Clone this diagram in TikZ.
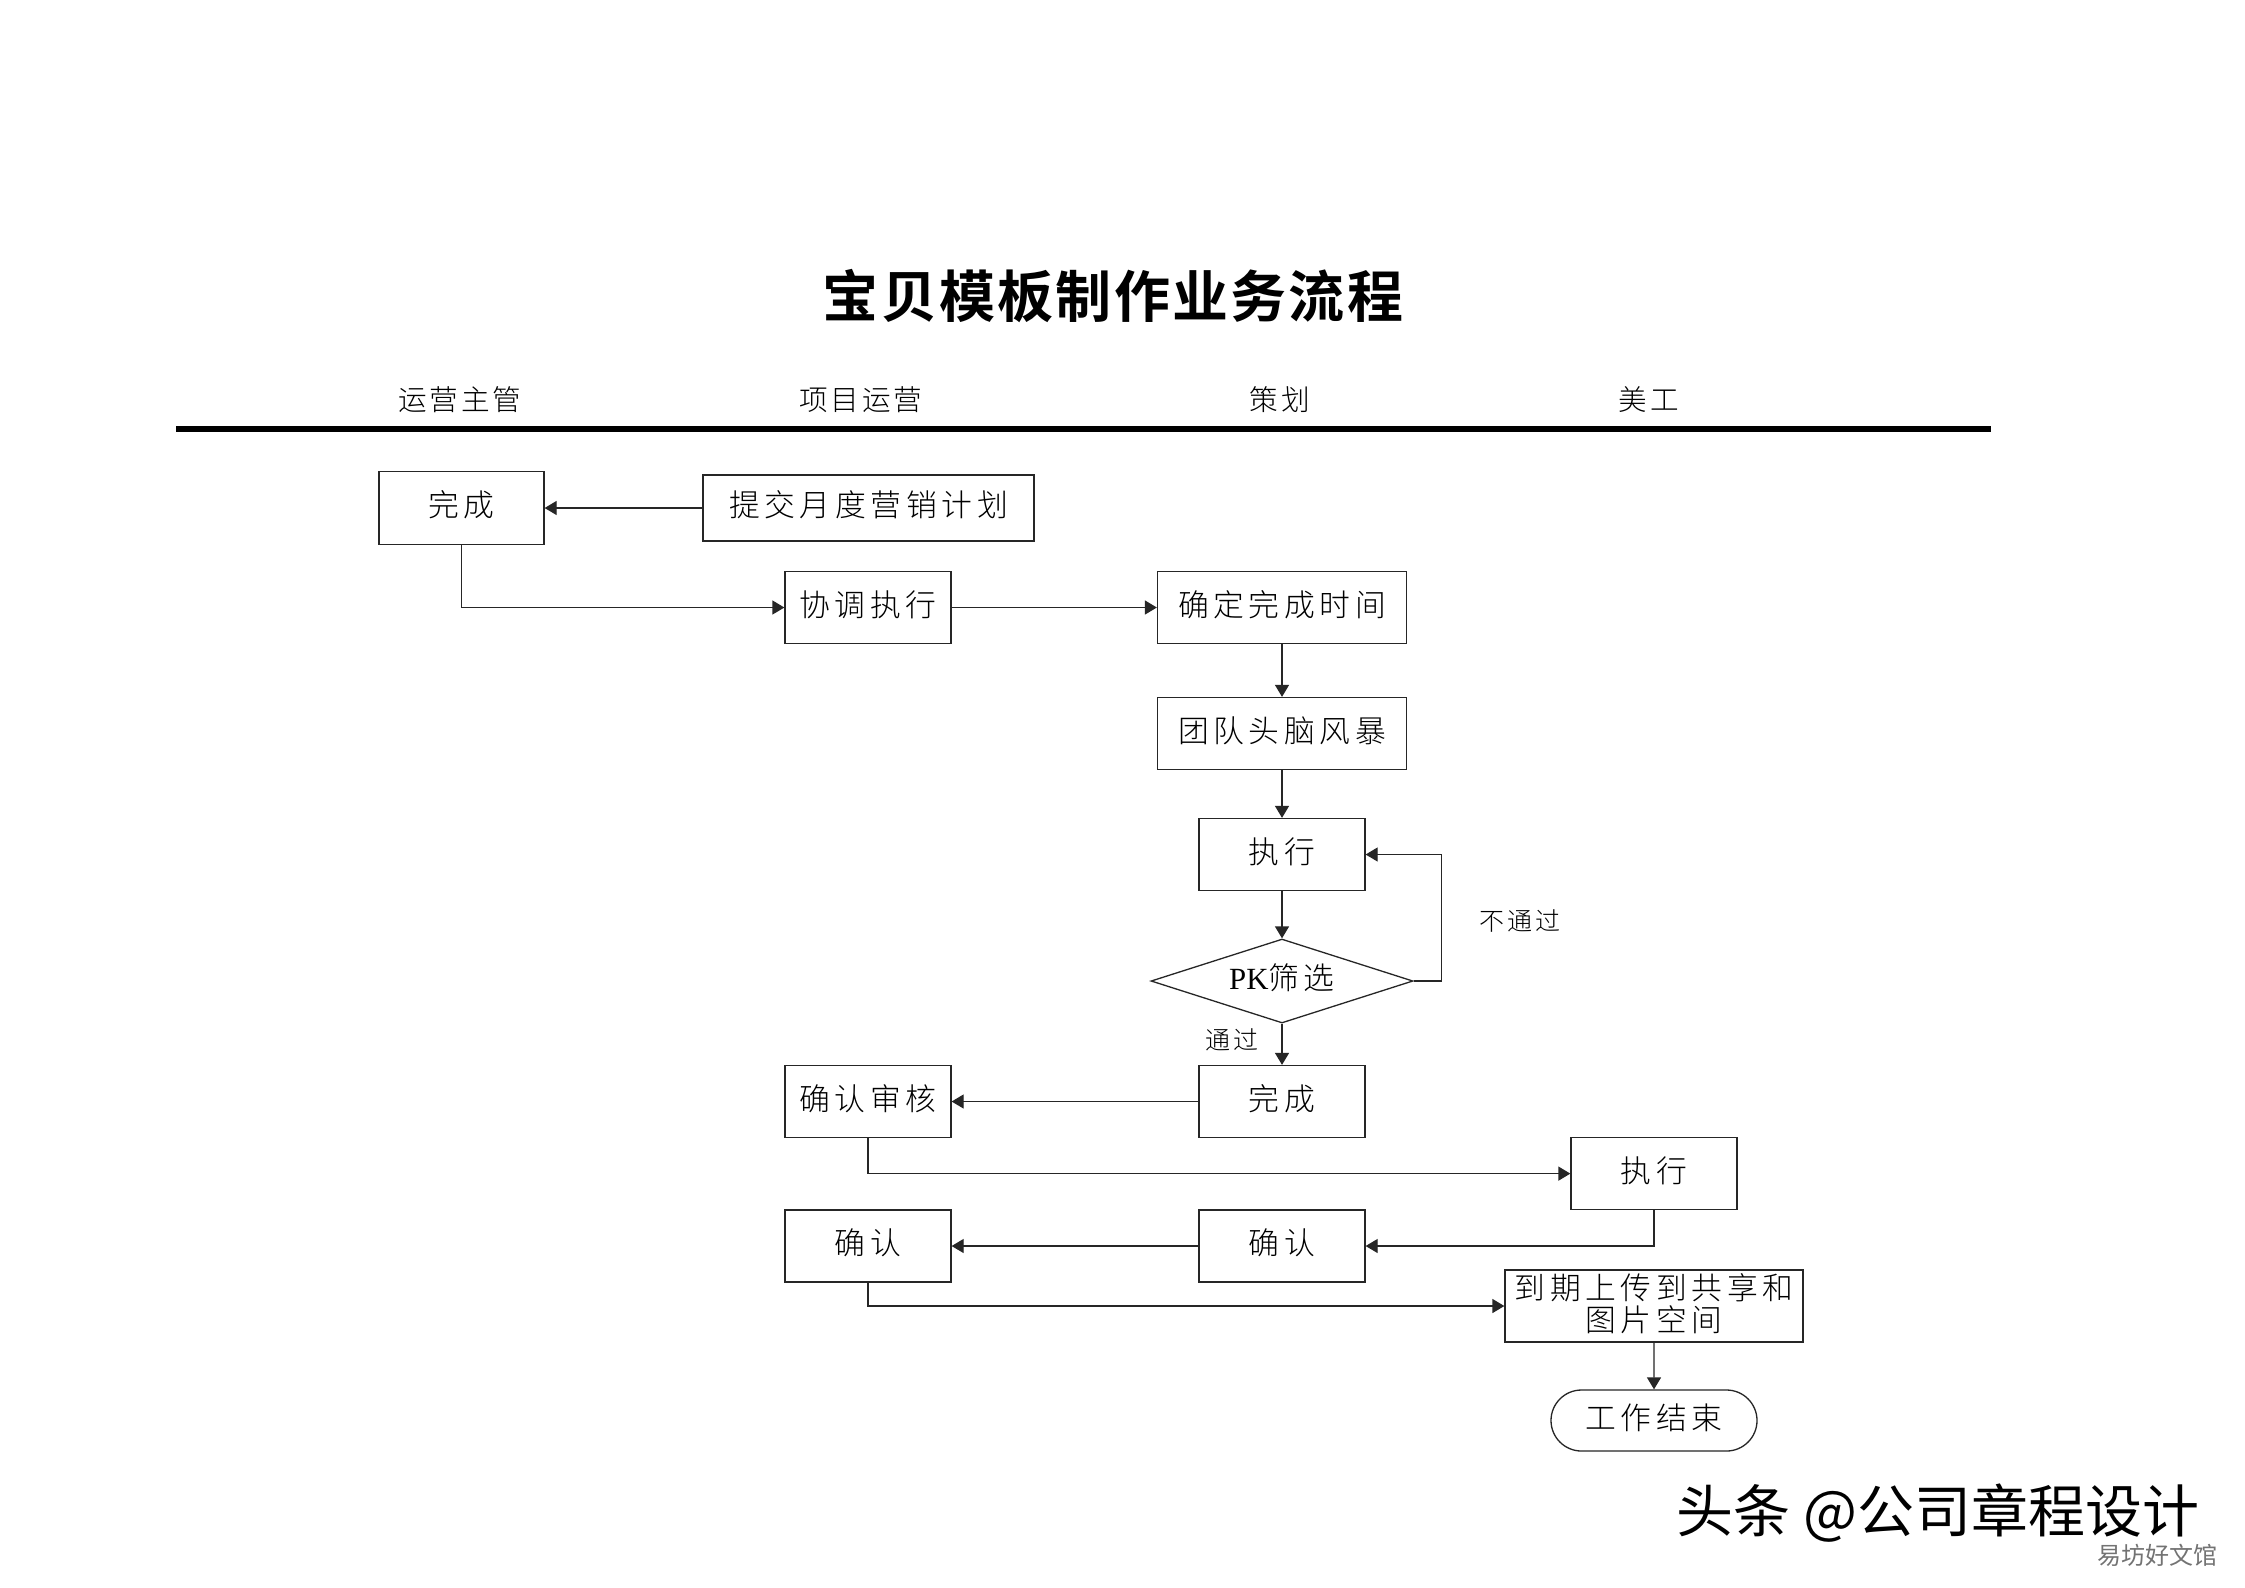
\documentclass[tikz,border=0pt]{standalone}
\usepackage{fontspec}
\usetikzlibrary{arrows.meta,shapes.geometric,shapes.misc}
\setmainfont{Liberation Serif}
\newfontfamily\cjktitle[LetterSpace=4]{Noto Sans CJK SC Bold}
\newfontfamily\cjkhead[LetterSpace=10]{Noto Sans CJK SC Light}
\newfontfamily\cjkbody[LetterSpace=15]{Noto Sans CJK SC Light}
\newfontfamily\cjklabel[LetterSpace=12]{Noto Sans CJK SC Light}
\newfontfamily\cjkmark{Noto Sans CJK SC}
\newfontfamily\latinbody{Liberation Serif}
\newcommand\up[1]{\raisebox{1.4pt}[\height][\depth]{#1}}
\begin{document}
\begin{tikzpicture}[x=0.5pt,y=-0.5pt,
  box/.style={draw=black!85,line width=0.65pt,rectangle,inner sep=0pt,align=center,font=\fontsize{15.4}{16}\cjkbody},
  sq/.style={box,minimum width=83pt,minimum height=36pt},
  wide/.style={box,minimum width=124.5pt,minimum height=36pt},
  decide/.style={draw=black!85,line width=0.65pt,diamond,aspect=3.12,inner sep=0pt,minimum width=131pt,minimum height=42pt,font=\fontsize{15.4}{16}\cjkbody},
  term/.style={draw=black!85,line width=0.65pt,rounded rectangle,inner sep=0pt,minimum width=103pt,minimum height=30.5pt,font=\fontsize{15.4}{16}\cjkbody},
  head/.style={inner sep=0pt,font=\fontsize{14.3}{16}\cjkhead},
  lab/.style={inner sep=0pt,font=\fontsize{12.5}{14}\cjklabel},
  flow/.style={draw=black!85,line width=0.65pt,-{Triangle[length=6pt,width=7pt]}},
  plain/.style={draw=black!85,line width=0.65pt}]
\useasboundingbox (0,0) rectangle (2245,1587);
\fill[white] (0,0) rectangle (2245,1587);

\node[inner sep=0pt,font=\fontsize{28}{30}\cjktitle] (title) at (1113,296) {宝贝模板制作业务流程};
\node[head] (h1) at (460,400) {运营主管};
\node[head] (h2) at (861,400) {项目运营};
\node[head] (h3) at (1280,400) {策划};
\node[head] (h4) at (1649,400) {美工};
\coordinate (ruleL) at (176,429);
\coordinate (ruleR) at (1991,429);
\draw[line width=3pt] (ruleL) -- (ruleR);

\node[box,minimum width=82.5pt,minimum height=36.3pt] (done1) at (461.5,508) {\up{完成}};
\node[box,minimum width=165.5pt,minimum height=33pt] (submit) at (868.5,508) {\up{提交月度营销计划}};
\node[sq] (coord) at (868,607.5) {\up{协调执行}};
\node[wide] (time) at (1282,607.5) {\up{确定完成时间}};
\node[wide] (brain) at (1282,733.5) {\up{团队头脑风暴}};
\node[sq] (exec1) at (1282,854.5) {\up{执行}};
\node[decide] (pk) at (1282,981) {\up{{\latinbody PK}筛选}};
\node[sq] (done2) at (1282,1101.5) {\up{完成}};
\node[sq] (audit) at (868,1101.5) {\up{确认审核}};
\node[sq] (exec2) at (1654,1173.6) {\up{执行}};
\node[sq] (conf1) at (1282,1246) {\up{确认}};
\node[sq] (conf0) at (868,1246) {\up{确认}};
\node[box,minimum width=149pt,minimum height=36pt] (upload) at (1654,1306) {\up{到期上传到共享和}\\\up{图片空间}};
\node[term] (end) at (1654,1420.5) {\up{工作结束}};

\node[lab] (fail) at (1520,921) {不通过};
\node[lab] (pass) at (1232,1040) {通过};

\coordinate (loop) at (1441.7,854.5);
\draw[flow] (submit) -- (done1);
\draw[flow] (done1.south) |- (coord.west);
\draw[flow] (coord) -- (time);
\draw[flow] (time) -- (brain);
\draw[flow] (brain) -- (exec1);
\draw[flow] (exec1) -- (pk);
\draw[flow] (pk) -- (done2);
\draw[flow] (pk.east) -| (loop) -- (exec1.east);
\draw[flow] (done2) -- (audit);
\draw[flow] (audit.south) |- (exec2.west);
\draw[flow] (exec2.south) |- (conf1.east);
\draw[flow] (conf1) -- (conf0);
\draw[flow] (conf0.south) |- (upload.west);
\draw[flow] (upload) -- (end);

\node[inner sep=0pt,font=\fontsize{28.5}{30}\cjkmark] (mark) at (1938,1513) {头条 @公司章程设计};
\node[inner sep=0pt,text=black!55,font=\fontsize{12}{14}\cjkmark] (site) at (2157,1555) {易坊好文馆};
\end{tikzpicture}
\end{document}
